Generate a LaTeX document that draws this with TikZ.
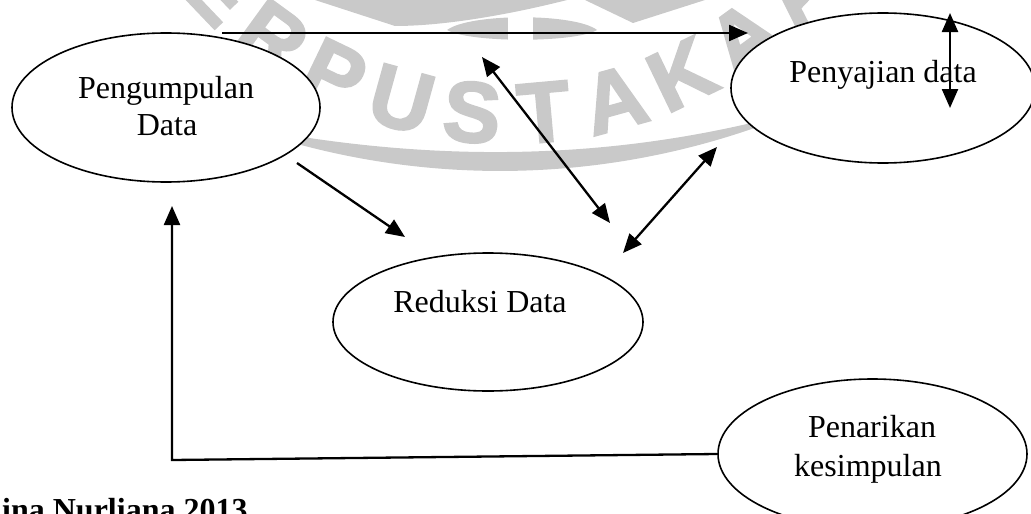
\documentclass[tikz,border=0pt]{standalone}
\usepackage{fontspec}
\setmainfont{Liberation Serif}
\newfontfamily\wmfont[BoldFeatures={FakeBold=2.5}]{Liberation Sans}
\usetikzlibrary{arrows.meta,shapes.geometric}
\begin{document}
\begin{tikzpicture}[x=1pt,y=-1pt,
  oval/.style={draw, ellipse, fill=white, line width=1.6pt, inner sep=0pt},
  lbl/.style={font=\fontsize{32}{38}\selectfont, inner sep=0pt, anchor=base},
  link/.style={line width=2.3pt, -{Triangle[length=19pt,width=16pt]}},
  dlink/.style={line width=2.3pt, {Triangle[length=19pt,width=16pt]}-{Triangle[length=19pt,width=16pt]}},
  wm/.style={text=black!21, font=\wmfont\bfseries\fontsize{86}{86}\selectfont, inner sep=0pt},
  wmfill/.style={fill=black!21}
]
\useasboundingbox (0,0) rectangle (1031,514);

% library stamp in the background
\begin{scope}
  \clip (0,0) rectangle (1031,514);
  \foreach \i/\l in {1/E,2/R,3/P,4/U,5/S,6/T,7/A,8/K,9/A,10/A}{
    \pgfmathsetmacro\ang{(5.5-\i)*10.3}
    \node[wm, rotate=-\ang] (wm\i) at ({508-400*sin(\ang)},{-286+400*cos(\ang)}) {\l};
  }
  % outer ring below the lettering
  \fill[wmfill] (500,-604) ++(109.6:775) arc[start angle=109.6, end angle=67.2, radius=775]
     .. controls (613,163) and (427,163) .. (240,126) -- cycle;
  % inner ring above the lettering
  \fill[wmfill] (447,30) .. controls (470,43) and (575,43) .. (597,30)
     .. controls (575,13) and (470,13) .. (447,30) -- cycle;
  \fill[white] (508,5) rectangle (533,45);
  % lower tips of the emblem
  \fill[wmfill] (315,0) -- (395,26) .. controls (450,26) and (520,12) .. (567,0) -- cycle;
  \fill[wmfill] (585,0) -- (633,23) -- (705,0) -- cycle;
\end{scope}

% process stages
\node[oval, minimum width=308pt, minimum height=149pt] (peng) at (166,107.5) {};
\node[oval, minimum width=304pt, minimum height=150pt] (peny) at (883,88) {};
\node[oval, minimum width=310pt, minimum height=138pt] (red) at (488,322) {};
\node[oval, minimum width=309pt, minimum height=150pt] (pen) at (872.5,454) {};

\node[lbl] (pengA) at (166,98) {Pengumpulan};
\node[lbl] (pengB) at (167,135) {Data};
\node[lbl] (penyT) at (883,82) {Penyajian data};
\node[lbl] (redT) at (480,312) {Reduksi Data};
\node[lbl] (penA) at (872,437) {Penarikan};
\node[lbl] (penB) at (868,476) {kesimpulan};
\node[lbl, font=\bfseries\fontsize{32}{38}\selectfont, anchor=base west] (src) at (2,520) {ina Nurliana 2013};

% flows between the stages
\coordinate (a1) at (222,33);  \coordinate (a2) at (748,33);
\draw[link] (a1) -- (a2);
\coordinate (b1) at (482,57);  \coordinate (b2) at (610,223);
\draw[dlink] (b1) -- (b2);
\coordinate (c1) at (623,253); \coordinate (c2) at (717,147);
\draw[dlink] (c1) -- (c2);
\coordinate (d1) at (297,163); \coordinate (d2) at (405,237);
\draw[link] (d1) -- (d2);
\coordinate (e1) at (950,13);  \coordinate (e2) at (950,108);
\draw[dlink] (e1) -- (e2);
\coordinate (f1) at (172,460); \coordinate (f2) at (172,206);
\draw[link] (pen.west) -- (f1) -- (f2);
\end{tikzpicture}
\end{document}
